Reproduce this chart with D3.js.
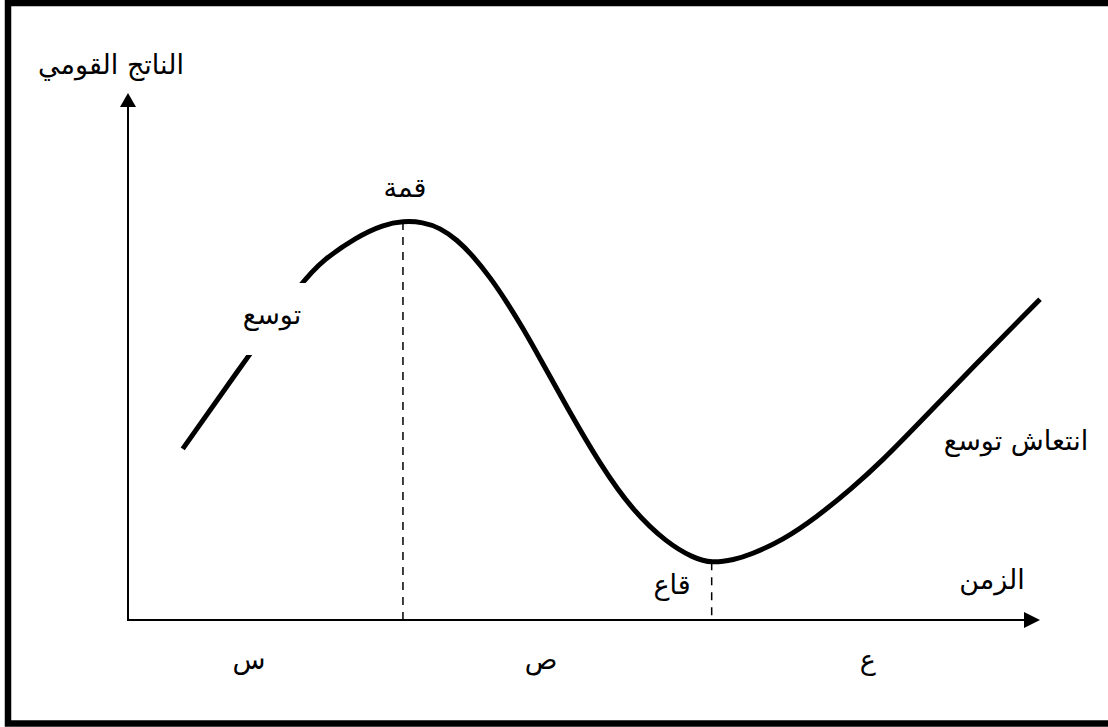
<!DOCTYPE html>
<html lang="ar">
<head>
<meta charset="utf-8">
<script src="https://cdn.jsdelivr.net/npm/d3@7"></script>
<style>
  html, body { margin: 0; padding: 0; background: #fff; }
  svg text { font-family: "DejaVu Sans", "Liberation Sans", sans-serif; fill: #000; }
</style>
</head>
<body>
<svg class="cycle"></svg>
<script>
const size = {w: 1108, h: 727};

// business cycle curve (time units, output units)
const timeVals = [0.60, 1.32, 1.905, 2.14, 2.51, 2.80, 3.015, 3.235, 3.42, 3.61, 3.78, 3.97, 4.16,
                  4.33, 4.50, 4.81, 5.18, 5.54, 5.91, 6.20, 6.40, 6.65, 6.82, 7.18, 7.55, 7.92,
                  8.28, 8.65, 9.30, 10.0];
const gnpVals  = [3.26, 5.03, 6.44, 6.86, 7.30, 7.53, 7.60, 7.58, 7.47, 7.24, 6.94, 6.53, 6.04,
                  5.56, 5.04, 4.06, 2.95, 2.07, 1.47, 1.18, 1.08, 1.15, 1.24, 1.52, 1.96, 2.48,
                  3.05, 3.71, 4.88, 6.11];

// turning points
const peak = {t: 3.015, v: 7.58};
const trough = {t: 6.40, v: 1.10};

// texts
const yTitle = 'الناتج القومي';
const xTitle = 'الزمن';
const peakLabel = 'قمة';
const troughLabel = 'قاع';
const expLabel = 'توسع';
const recovLabel = 'انتعاش توسع';
const phaseLabels = ['س', 'ص', 'ع'];

const fontSize = 27;

const svg = d3.select('svg.cycle')
    .attr('width', size.w)
    .attr('height', size.h);

// outer frame
svg.append('rect')
    .attr('x', 8).attr('y', 3)
    .attr('width', size.w).attr('height', 720.5)
    .attr('fill', 'none')
    .attr('stroke', '#000')
    .attr('stroke-width', 6.5);

const x = d3.scaleLinear().domain([0, 10]).range([128, 1040]);
const y = d3.scaleLinear().domain([0, 10]).range([620, 95]);

const g = svg.append('g');

// --- axes with arrow heads ---
const x0 = x(0), y0 = y(0);
const xTip = x.range()[1], yTip = y.range()[1] - 2;

g.append('line')
    .attr('x1', x0).attr('y1', y0)
    .attr('x2', x0).attr('y2', yTip + 12)
    .attr('stroke', '#000').attr('stroke-width', 2);
g.append('path')
    .attr('d', `M${x0 - 8},${yTip + 14}L${x0 + 8},${yTip + 14}L${x0},${yTip}Z`)
    .attr('fill', '#000');

g.append('line')
    .attr('x1', x0 - 1).attr('y1', y0)
    .attr('x2', xTip - 12).attr('y2', y0)
    .attr('stroke', '#000').attr('stroke-width', 2);
g.append('path')
    .attr('d', `M${xTip - 16},${y0 - 8}L${xTip - 16},${y0 + 8}L${xTip},${y0}Z`)
    .attr('fill', '#000');

// --- dashed lines at peak and trough ---
[peak, trough].forEach(p => {
    g.append('line')
        .attr('x1', x(p.t)).attr('y1', y(p.v))
        .attr('x2', x(p.t)).attr('y2', y0)
        .attr('stroke', '#000')
        .attr('stroke-width', 1.5)
        .attr('stroke-dasharray', '8,7');
});

// --- the curve (B-spline smooths the hand-read points) ---
const pts = timeVals.map((t, i) => [t, gnpVals[i]]);
const line = d3.line()
    .x(d => x(d[0]))
    .y(d => y(d[1]))
    .curve(d3.curveBasis);

g.append('path')
    .datum(pts)
    .attr('d', line)
    .attr('fill', 'none')
    .attr('stroke', '#000')
    .attr('stroke-width', 5)
    .attr('stroke-linecap', 'butt');

// --- labels ---
function label(txt, px, py, anchor = 'middle') {
    return g.append('text')
        .attr('x', px).attr('y', py)
        .attr('text-anchor', anchor)
        .style('font-size', fontSize + 'px')
        .text(txt);
}

// white text box hiding part of the curve behind "توسع"
const expX = 272, expY = 324;
g.append('rect')
    .attr('x', expX - 42).attr('y', 283)
    .attr('width', 84).attr('height', 72)
    .attr('fill', '#fff');
label(expLabel, expX, expY);

label(yTitle, 111, 74);
label(peakLabel, x(peak.t) + 2, 197);
label(troughLabel, 672, 594);
label(xTitle, 992, 589);
label(recovLabel, 1016, 450);

// phase letters, right edge at the middle of each phase
const bounds = [0, peak.t, trough.t, 10];
phaseLabels.forEach((p, i) => {
    label(p, x((bounds[i] + bounds[i + 1]) / 2), 669, 'end');
});
</script>
</body>
</html>
